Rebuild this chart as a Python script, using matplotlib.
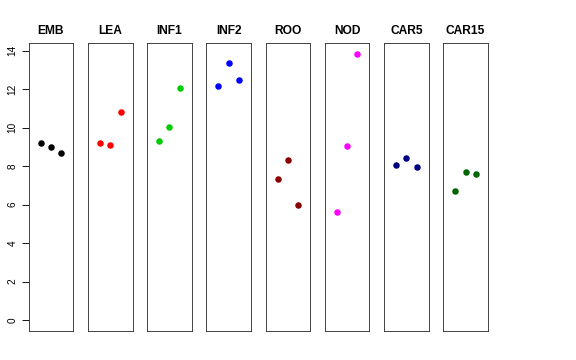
import matplotlib
matplotlib.use("Agg")
from matplotlib import pyplot as plt

plt.rcParams['font.family'] = ['Liberation Sans', 'DejaVu Sans']

# tissues and the three values per tissue
tissues = ["EMB", "LEA", "INF1", "INF2", "ROO", "NOD", "CAR5", "CAR15"]
colors = ["black", "red", "#00CD00", "blue", "#8B0000", "magenta", "#000080", "#006400"]
emb = [9.21, 9.00, 8.69]
lea = [9.22, 9.10, 10.83]
inf1 = [9.29, 10.04, 12.05]
inf2 = [12.15, 13.38, 12.48]
roo = [7.32, 8.29, 5.97]
nod = [5.59, 9.05, 13.84]
car5 = [8.06, 8.44, 7.94]
car15 = [6.70, 7.70, 7.61]
values = [emb, lea, inf1, inf2, roo, nod, car5, car15]
reps = [1, 2, 3]
yticks = [0, 2, 4, 6, 8, 10, 12, 14]

W, H = 576, 360
fig = plt.figure(figsize=(8, 5), dpi=72)

ymax = 13.84
ypad = ymax * 0.04
left0 = 28.7
step = 59.23
pw = 44.6
top = 43.0
bottom = 330.7

for i in range(len(tissues)):
    x0 = left0 + step * i
    ax = fig.add_axes([x0 / W, 1 - bottom / H, pw / W, (bottom - top) / H])
    ax.plot(reps, values[i], 'o', color=colors[i], markersize=6.5, markeredgewidth=0)
    ax.set_xlim(-0.16, 4.16)
    ax.set_ylim(-ypad, ymax + ypad)
    ax.set_xticks([])
    for s in ax.spines.values():
        s.set_linewidth(0.9)
        s.set_color("#333333")
    ax.set_title(tissues[i], fontsize=12, fontweight='bold', pad=9)
    if i == 0:
        ax.set_yticks(yticks)
        ax.set_yticklabels([str(v) for v in yticks], rotation=90, va='center', fontsize=10)
        ax.tick_params(axis='y', length=7, width=0.9, pad=4)
    else:
        ax.set_yticks([])

fig.savefig("out.png", dpi=72)
